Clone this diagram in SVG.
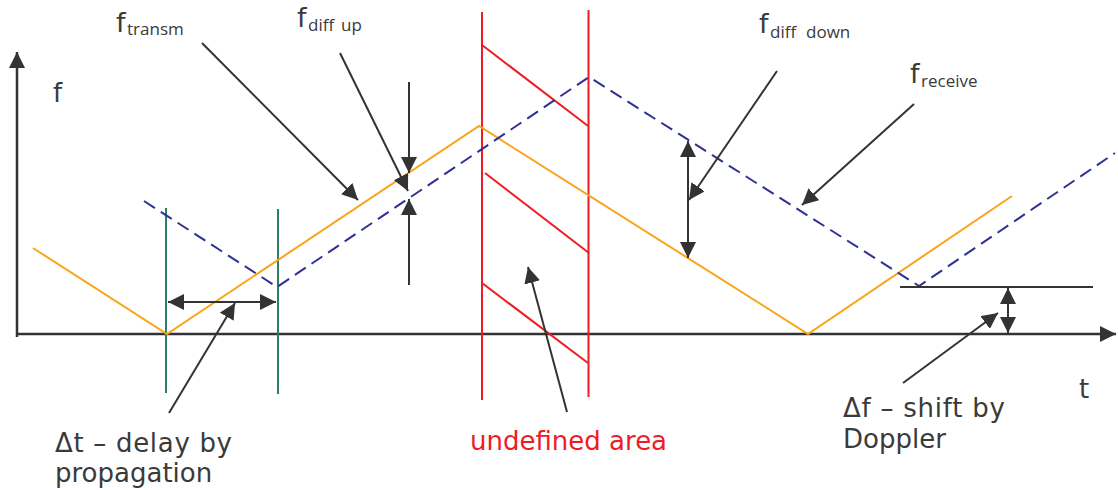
<svg xmlns="http://www.w3.org/2000/svg" width="1118" height="490" viewBox="0 0 1118 490">
<defs>
<marker id="ah" markerUnits="userSpaceOnUse" markerWidth="16" markerHeight="16" viewBox="0 0 16 16" refX="16" refY="8" orient="auto-start-reverse">
<path d="M0,0 L16,8 L0,16 z" fill="#333"/>
</marker>
<style>
.lbl{font-family:"DejaVu Sans","Liberation Sans",sans-serif;font-size:26px;fill:#3a3a3a}
.big{font-size:27px}
.sub{font-family:"Open Sans","DejaVu Sans",sans-serif;font-size:17px}
.ptr{stroke:#333;stroke-width:2;fill:none}
.axis{stroke:#333;stroke-width:2.5;fill:none}
.tx{stroke:#F9A51A;stroke-width:2;fill:none}
.rx{stroke:#2E3192;stroke-width:2;fill:none;stroke-dasharray:13 7}
.red{stroke:#EE1C25;stroke-width:2;fill:none}
.teal{stroke:#2E7D6B;stroke-width:2;fill:none}
</style>
</defs>
<rect width="1118" height="490" fill="#fff"/>

<g id="axes">
<line class="axis" x1="17" y1="337" x2="17" y2="52" marker-end="url(#ah)"/>
<line class="axis" x1="17" y1="334" x2="1116" y2="334" marker-end="url(#ah)"/>
</g>

<g id="undefined-area">
<line class="red" x1="482" y1="12" x2="482" y2="400"/>
<line class="red" x1="588.5" y1="10" x2="588.5" y2="397"/>
<line class="red" x1="482" y1="45" x2="588" y2="126"/>
<line class="red" x1="485" y1="173" x2="589" y2="253"/>
<line class="red" x1="482" y1="283" x2="588" y2="363"/>
</g>

<g id="delay-markers">
<line class="teal" x1="166" y1="208" x2="166" y2="393"/>
<line class="teal" x1="278" y1="209" x2="278" y2="394"/>
</g>

<g id="f-transm-signal">
<polyline class="tx" points="33,248 167,334 479,126 808,334 1012,196"/>
</g>

<g id="f-receive-signal">
<polyline class="rx" points="144,201 277,287 589,77 919,286 1115,153"/>
</g>

<g id="doppler-level">
<line class="ptr" x1="900" y1="287" x2="1093" y2="287"/>
</g>

<g id="connectors">
<line class="ptr" x1="168" y1="302" x2="276" y2="302" marker-start="url(#ah)" marker-end="url(#ah)"/>
<line class="ptr" x1="169" y1="413" x2="235" y2="303" marker-end="url(#ah)"/>
<line class="ptr" x1="202" y1="43" x2="358" y2="200" marker-end="url(#ah)"/>
<line class="ptr" x1="340" y1="53" x2="408" y2="191" marker-end="url(#ah)"/>
<line class="ptr" x1="409" y1="82" x2="409" y2="173" marker-end="url(#ah)"/>
<line class="ptr" x1="409" y1="285" x2="409" y2="199" marker-end="url(#ah)"/>
<line class="ptr" x1="777" y1="71" x2="689" y2="200" marker-end="url(#ah)"/>
<line class="ptr" x1="688" y1="141" x2="688" y2="258" marker-start="url(#ah)" marker-end="url(#ah)"/>
<line class="ptr" x1="914" y1="104" x2="802" y2="205" marker-end="url(#ah)"/>
<line class="ptr" x1="1008" y1="288" x2="1008" y2="333" marker-start="url(#ah)" marker-end="url(#ah)"/>
<line class="ptr" x1="903" y1="383" x2="998" y2="313" marker-end="url(#ah)"/>
<line class="ptr" x1="567" y1="412" x2="528" y2="267" marker-end="url(#ah)"/>
</g>

<g id="labels">
<text class="lbl" x="53" y="102">f</text>
<text class="lbl big" x="116" y="32">f<tspan class="sub" x="127" y="35">transm</tspan></text>
<text class="lbl big" x="297" y="27">f<tspan class="sub" x="308" y="31">diff</tspan><tspan class="sub" x="341" y="31">up</tspan></text>
<text class="lbl big" x="759" y="33">f<tspan class="sub" x="770" y="38">diff</tspan><tspan class="sub" x="806" y="38">down</tspan></text>
<text class="lbl big" x="910" y="83">f<tspan class="sub" x="921" y="87">receive</tspan></text>
<text class="lbl" x="1079" y="398">t</text>
<text class="lbl" x="55" y="452" textLength="177" lengthAdjust="spacing">Δt – delay by</text>
<text class="lbl" x="55" y="482">propagation</text>
<text class="lbl" x="470" y="450" style="fill:#EE1C25">undefined area</text>
<text class="lbl" x="843" y="417" textLength="162" lengthAdjust="spacing">Δf – shift by</text>
<text class="lbl" x="843" y="448">Doppler</text>
</g>
</svg>
